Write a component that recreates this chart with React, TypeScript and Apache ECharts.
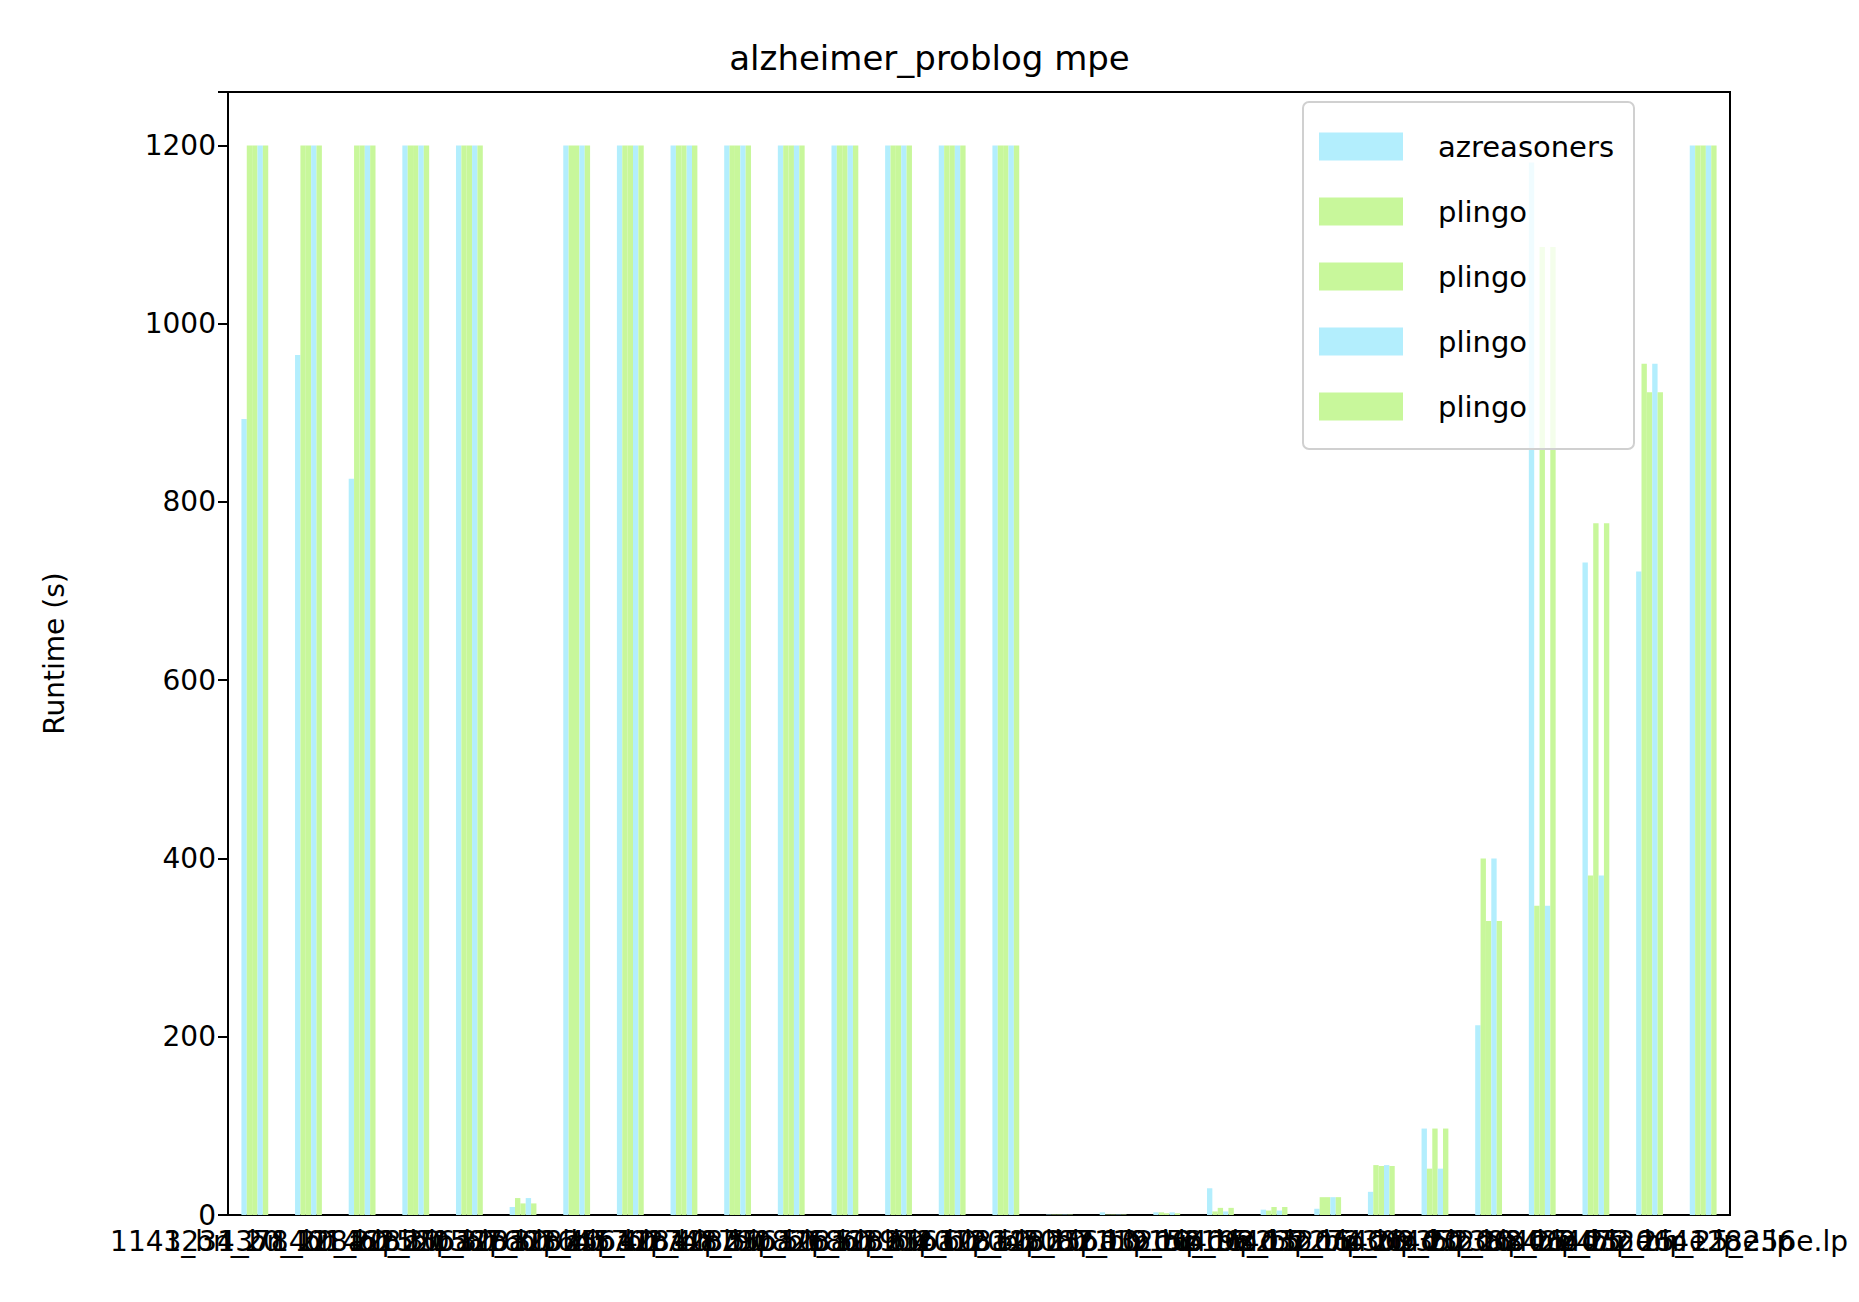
import React, { useEffect, useRef } from 'react';
import * as echarts from 'echarts';

const categories = [
    '1143_bn_20_128a.lp', '1234_bn_20_128b.lp', '1378_bn_20_256a.lp', '1401_bn_30_128a.lp',
    '1462_bn_30_128b.lp', '1520_bn_30_256a.lp', '1587_bn_40_128a.lp', '1603_bn_40_128b.lp',
    '1645_bn_40_256a.lp', '1702_bn_50_128a.lp', '1748_bn_50_128b.lp', '1790_bn_50_256a.lp',
    '1826_bn_60_128a.lp', '1863_bn_60_128b.lp', '1904_bn_60_256a.lp', '2012_bn_10_032c.lp',
    '2045_bn_10_064c.lp', '2087_bn_10_064d.lp', '2119_bn_15_032c.lp', '2156_bn_15_064c.lp',
    '2198_bn_15_064d.lp', '2231_bn_20_032c.lp', '2274_bn_20_064c.lp', '2309_bn_20_064d.lp',
    '2351_bn_25_032e.lp', '2388_bn_25_064e.lp', '2420_bn_25_128e.lp', '2472_bn_25_256e.lp',
];

const azreasoners = [893, 965, 826, 1200, 1200, 9, 1200, 1200, 1200, 1200, 1200, 1200, 1200, 1200, 1200, 0.5, 3, 3, 30, 6, 7, 26, 97, 213, 1181, 732, 722, 1200];
const plingoA = [1200, 1200, 1200, 1200, 1200, 19, 1200, 1200, 1200, 1200, 1200, 1200, 1200, 1200, 1200, 0.5, 0.5, 3, 4, 5, 20, 56, 52, 400, 347, 381, 955, 1200];
const plingoB = [1200, 1200, 1200, 1200, 1200, 13, 1200, 1200, 1200, 1200, 1200, 1200, 1200, 1200, 1200, 0.5, 0.5, 2, 8, 9, 20, 55, 97, 330, 1086, 776, 923, 1200];
const plingoC = [1200, 1200, 1200, 1200, 1200, 19, 1200, 1200, 1200, 1200, 1200, 1200, 1200, 1200, 1200, 0.5, 0.5, 3, 4, 5, 20, 56, 52, 400, 347, 381, 955, 1200];
const plingoD = [1200, 1200, 1200, 1200, 1200, 13, 1200, 1200, 1200, 1200, 1200, 1200, 1200, 1200, 1200, 0.5, 0.5, 2, 8, 9, 20, 55, 97, 330, 1086, 776, 923, 1200];

const BLUE = '#b3eefd';
const GREEN = '#c8f79b';

const App: React.FC = () => {
    const chartRef = useRef<HTMLDivElement>(null);

    useEffect(() => {
        if (!chartRef.current) return;
        const chart = echarts.init(chartRef.current, undefined, { renderer: 'svg' });
        const font = 'DejaVu Sans';

        const bar = (name: string, data: number[], color: string) => ({
            name,
            type: 'bar',
            data,
            barWidth: '10%',
            barGap: '0%',
            itemStyle: { color },
        });

        chart.setOption({
            animation: false,
            textStyle: { fontFamily: font, color: '#000' },
            title: {
                text: 'alzheimer_problog mpe',
                left: 'center',
                top: 28,
                textStyle: { fontSize: 34, fontWeight: 'normal', color: '#000', fontFamily: font },
            },
            legend: {
                orient: 'vertical',
                left: 1295,
                top: 94,
                itemWidth: 84,
                itemHeight: 28,
                itemGap: 36,
                padding: [30, 20, 28, 16],
                borderColor: '#d0d0d0',
                borderWidth: 2,
                borderRadius: 6,
                backgroundColor: 'rgba(255,255,255,0.8)',
                textStyle: { fontSize: 29, color: '#000', fontFamily: font, padding: [0, 0, 0, 30] },
                data: [
                    { name: 'azreasoners', icon: 'rect', itemStyle: { color: BLUE } },
                    { name: 'plingo', icon: 'rect', itemStyle: { color: GREEN } },
                    { name: 'plingo ', icon: 'rect', itemStyle: { color: GREEN } },
                    { name: 'plingo  ', icon: 'rect', itemStyle: { color: BLUE } },
                    { name: 'plingo   ', icon: 'rect', itemStyle: { color: GREEN } },
                ],
            },
            grid: {
                left: 220,
                top: 84,
                width: 1502,
                height: 1123,
                show: true,
                borderColor: '#000',
                borderWidth: 2,
                backgroundColor: 'transparent',
            },
            xAxis: {
                type: 'category',
                data: categories,
                axisLine: { lineStyle: { color: '#000', width: 2 } },
                axisTick: { alignWithLabel: true, length: 10, lineStyle: { color: '#000', width: 2 } },
                axisLabel: { interval: 0, fontSize: 28, color: '#000', margin: 12, fontFamily: font },
            },
            yAxis: {
                type: 'value',
                min: 0,
                max: 1260,
                interval: 200,
                name: 'Runtime (s)',
                nameLocation: 'middle',
                nameGap: 160,
                nameTextStyle: { fontSize: 28, color: '#000', fontFamily: font },
                splitLine: { show: false },
                axisLine: { show: true, lineStyle: { color: '#000', width: 2 } },
                axisTick: { show: true, length: 10, lineStyle: { color: '#000', width: 2 } },
                axisLabel: {
                    fontSize: 28,
                    color: '#000',
                    margin: 12,
                    fontFamily: font,
                    formatter: (v: number) => (v % 200 === 0 && v <= 1200 ? String(v) : ''),
                },
            },
            series: [
                bar('azreasoners', azreasoners, BLUE),
                bar('plingo', plingoA, GREEN),
                bar('plingo ', plingoB, GREEN),
                bar('plingo  ', plingoC, BLUE),
                bar('plingo   ', plingoD, GREEN),
            ],
        });

        return () => chart.dispose();
    }, []);

    return <div ref={chartRef} style={{ width: 1843, height: 1286 }} />;
};

export default App;
